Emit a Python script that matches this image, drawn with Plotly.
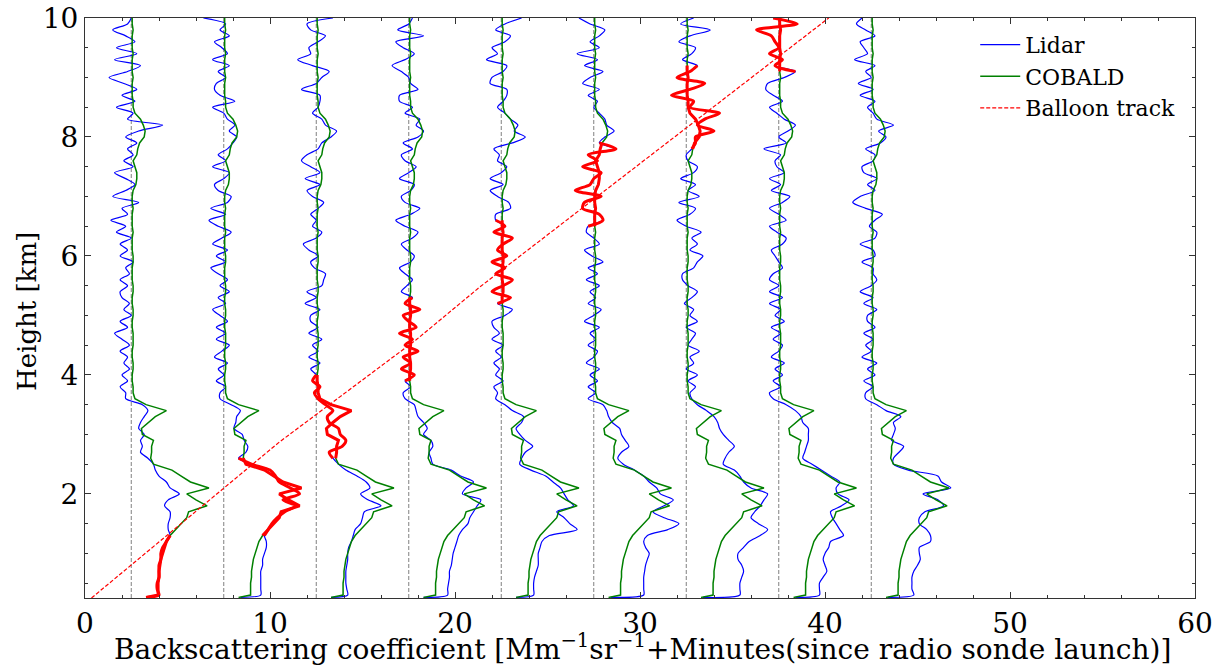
import plotly.graph_objects as go

# ---------------- data ----------------
OFFSETS = [2.5, 7.5, 12.5, 17.5, 22.5, 27.5, 32.5, 37.5, 42.5]   # minutes since launch (profile baselines)

# height samples [km]
HEIGHT_LOW = [0.26] + [h / 10 for h in range(3, 37)]      # 0.26, 0.3 ... 3.6
HEIGHT_HIGH = [h / 10 for h in range(37, 101)]            # 3.7 ... 10.0

# COBALD backscatter (same sonde profile drawn at each baseline)
COBALD_LOW = [0.8,
              1.45, 1.45, 1.45, 1.5, 1.5, 1.55, 1.6, 1.7, 1.8, 1.9,
              2.1, 2.4, 2.7, 3.0, 3.1, 4.1, 3.5, 3.0, 4.2, 3.2,
              2.7, 2.2, 1.2, 1.05, 1.1, 1.1, 1.2, 0.6, 0.55, 0.9,
              1.3, 1.9, 0.8, 0.2]
COBALD_HIGH = [0.1, 0.1, 0.05, 0.05, 0.1, 0.1, 0.05, 0.05, 0.1, 0.1,
               0.1, 0.05, 0.05, 0.1, 0.1, 0.05, 0.05, 0.1, 0.1, 0.05,
               0.05, 0.05, 0.1, 0.1, 0.05, 0.05, 0.05, 0.1, 0.05, 0.05,
               0.05, 0.1, 0.05, 0.05, 0.1, 0.25, 0.3, 0.3, 0.2, 0.1,
               0.3, 0.35, 0.45, 0.7, 0.75, 0.65, 0.5, 0.2, 0.1, 0.1,
               0.05, 0.05, 0.05, 0.1, 0.05, 0.05, 0.05, 0.1, 0.05, 0.05,
               0.05, 0.1, 0.05, 0.05]

# Lidar backscatter per profile (low part 0.26-3.6 km, high part 3.7-10 km)
LIDAR_LOW_1 = [0.8, 1.5, 1.4, 1.4, 1.5, 1.5, 1.5, 1.6, 1.6, 1.7, 1.9,
               2.1, 2.0, 2.0, 2.1, 2.1, 1.8, 2.0, 2.6, 2.1, 1.9,
               1.5, 1.3, 1.2, 0.9, 0.5, 0.6, 0.5, 0.7, 0.4, 0.5,
               0.7, 0.9, 0.6, -0.3]
LIDAR_HIGH_1 = [-0.3, -0.6, -0.2, -0.5, -0.1, -0.4, -0.2, -0.6, -0.1, -0.5,
                -0.9, -0.2, -0.6, 0.0, -0.4, -0.1, -0.5, -0.6, -0.2, -0.6,
                -0.1, -0.3, 0.1, -0.6, -0.2, -0.6, 0.0, -0.8, -0.3, -1.1,
                -0.2, -0.5, 0.4, -1.0, -0.3, 0.2, -0.3, -0.9, 0.1, -0.4,
                0.1, -0.2, 0.3, -0.3, 0.4, 1.7, -0.2, 0.1, -0.8, 0.2,
                -0.5, 0.3, -0.4, -1.2, -0.2, 0.5, -0.9, 0.3, -0.8, 0.2,
                -0.3, -1.0, -0.2, 0.0]
LIDAR_LOW_2 = [0.9, 2.0, 2.0, 2.0, 2.0, 2.0, 2.1, 2.1, 2.2, 2.3, 2.3,
               2.2, 2.4, 2.6, 2.9, 3.3, 3.9, 3.2, 4.1, 3.6, 3.0,
               2.8, 2.5, 1.5, 0.8, 1.2, 1.3, 1.1, 1.0, 0.55, 0.65,
               0.7, 0.9, 0.4, -0.2]
LIDAR_HIGH_2 = [-0.2, 0.1, -0.4, 0.0, -0.3, 0.2, -0.5, -0.1, 0.3, -0.4,
                0.1, -0.4, 0.2, -0.2, -0.6, 0.1, -0.3, 0.3, -0.2, 0.2,
                -0.3, -0.7, 0.1, -0.4, 0.2, -0.6, -0.1, 0.4, -0.3, -0.8,
                0.1, -0.7, 0.2, 0.4, -0.3, -0.5, 0.0, 0.3, -0.6, 0.1,
                -0.3, 0.2, 0.5, 0.7, 0.3, 0.6, 0.2, 0.0, -0.6, 0.6,
                -0.2, -0.5, -0.4, 0.1, -0.3, 0.3, -0.6, 0.2, -0.1, -0.5,
                0.3, -0.2, 0.1, -1.1]
LIDAR_LOW_3 = [0.8, 1.7, 1.65, 1.6, 1.6, 1.6, 1.65, 1.7, 1.7, 1.75, 1.9,
               2.0, 2.1, 2.4, 2.5, 2.6, 3.5, 2.8, 2.4, 2.9, 2.7,
               2.2, 1.6, 1.2, 0.9, 0.7, 1.4, 1.6, 1.3, 1.2, 0.7,
               0.6, 0.9, 0.5, 0.1]
LIDAR_HIGH_3 = [-0.1, 0.2, -0.2, 0.0, -0.3, 0.2, -0.4, 0.1, -0.2, 0.3,
                -0.4, 0.1, -0.3, -0.3, 0.2, -0.6, 0.0, -0.5, 0.3, 0.4,
                0.5, -0.1, -0.3, 0.1, -0.4, -0.7, 0.0, 0.3, -0.2, 0.0,
                -0.3, 0.1, 0.4, -0.2, -0.5, 0.2, -0.6, 0.2, -0.3, -0.8,
                -0.5, 0.1, 0.3, 0.8, 1.1, 0.5, 0.3, -0.2, 0.1, 0.2,
                0.2, -0.8, 0.0, 0.3, 0.7, -0.2, -1.0, -0.3, -0.4, 0.1,
                0.5, -0.3, -0.5, 0.9]
LIDAR_LOW_4 = [0.8, 2.1, 2.1, 2.15, 2.2, 2.2, 2.3, 2.35, 2.4, 2.5, 2.6,
               2.7, 2.9, 3.2, 3.3, 3.5, 3.7, 3.9, 2.9, 3.1, 3.5,
               2.8, 2.3, 1.3, 1.2, 1.1, 1.3, 1.2, 0.8, 1.0, 0.8,
               0.5, 0.4, 0.3, -0.2]
LIDAR_HIGH_4 = [-0.3, 0.1, -0.2, 0.3, -0.4, 0.1, -0.3, 0.5, -0.2, 0.2,
                -0.5, 0.4, 0.0, -0.3, 0.6, -0.2, 0.2, -0.4, -0.1, 0.2,
                -0.2, -0.5, 0.1, 0.3, -0.1, -0.4, 0.2, 0.5, -0.2, -0.7,
                0.1, 0.6, -0.2, -0.4, 0.1, 0.3, -0.5, 0.0, 0.4, -0.2,
                -0.4, 0.2, -0.3, 0.5, 0.8, 0.4, 0.6, -0.2, 0.2, -0.5,
                -0.5, 0.5, 0.1, 0.0, -0.4, -0.9, -0.2, 0.3, -0.3, -0.7,
                0.8, -0.6, 0.0, 0.2]
LIDAR_LOW_5 = [0.8, 1.75, 1.75, 1.75, 1.8, 1.9, 2.0, 2.0, 2.0, 2.1, 2.2,
               2.6, 4.1, 3.7, 3.4, 3.0, 3.9, 3.6, 3.4, 3.2, 2.8,
               2.4, 1.6, 1.0, 1.1, 1.3, 1.7, 1.3, 1.0, 0.8, 1.1,
               1.2, 0.6, 0.2, -0.3]
LIDAR_HIGH_5 = [-0.2, -0.4, 0.1, -0.3, -0.1, -0.4, 0.0, -0.3, 0.1, -0.5,
                -0.1, -0.4, -0.5, 0.2, 0.6, -0.2, 0.5, -0.5, 0.1, 0.6,
                -0.3, 0.2, -0.5, 0.3, -0.2, 0.1, 0.6, -0.4, 0.2, -0.3,
                -0.3, 0.5, 0.4, -0.2, -0.6, 0.1, -0.6, 0.0, 0.3, -0.2,
                -0.1, -0.4, 0.6, 1.3, 0.7, 0.9, 0.5, 0.2, -0.2, 0.1,
                0.3, 0.3, -0.6, -0.5, 0.1, 0.3, -0.8, -0.2, -0.5, 0.2,
                0.5, -0.3, 0.2, 1.1]
LIDAR_LOW_6 = [0.9, 2.7, 2.7, 2.7, 2.7, 2.75, 2.8, 2.9, 3.0, 2.8, 2.7,
               2.9, 4.0, 4.6, 3.8, 3.2, 3.8, 4.3, 3.6, 3.4, 3.0,
               2.7, 2.2, 1.6, 1.3, 1.5, 1.9, 1.7, 1.5, 1.4, 1.0,
               0.8, 0.7, 0.5, -0.3]
LIDAR_HIGH_6 = [0.1, -0.3, 0.2, -0.2, 0.3, -0.4, 0.0, 0.2, -0.3, 0.1,
                -0.2, 0.3, -0.5, 0.0, 0.4, -0.3, 0.1, -0.2, 0.3, -0.4,
                0.2, -0.3, 0.5, -0.1, -0.5, 0.3, 0.0, -0.4, -0.3, 0.5,
                0.3, -0.6, -0.5, 0.4, -1.0, -0.2, 0.0, 0.4, -0.6, 0.2,
                -0.3, 1.2, 0.3, 0.6, 1.1, 0.7, 0.6, 0.3, 0.0, 0.2,
                -0.3, 0.3, -0.6, -0.2, 0.5, -0.5, 0.2, -0.9, 0.3, -0.2,
                0.3, 0.6, -0.2, -0.8]
LIDAR_LOW_7 = [0.9, 2.9, 2.9, 2.9, 3.0, 3.1, 3.0, 2.8, 2.8, 3.1, 3.4,
               4.0, 4.4, 3.9, 3.5, 3.7, 4.0, 4.2, 4.4, 3.5, 3.1,
               2.9, 2.6, 2.0, 2.1, 2.3, 2.6, 2.3, 2.0, 1.8, 1.7,
               1.5, 1.1, 0.6, 0.3]
LIDAR_HIGH_7 = [0.2, 0.5, 0.1, 0.6, 0.0, 0.4, 0.2, 0.7, 0.1, 0.3,
                0.5, 0.0, 0.6, 0.2, 0.4, -0.1, 0.3, 0.6, 0.1, -0.2,
                -0.2, 0.4, 0.6, 0.9, 0.2, 0.6, 0.3, 0.8, 0.0, -0.5,
                0.2, 0.5, -0.4, 0.7, 0.1, 0.5, -0.3, 0.4, 0.6, 0.1,
                0.0, 0.3, 0.5, 0.5, 1.5, 0.6, 1.0, 1.8, 0.2, 0.4,
                -0.8, 0.2, 1.0, -0.5, 0.2, 0.6, -0.2, 0.3, 0.5, -0.4,
                0.2, 1.3, -0.3, 0.4]
LIDAR_LOW_8 = [0.9, 2.2, 2.2, 2.2, 2.4, 2.6, 2.5, 2.4, 2.5, 2.7, 2.8,
               3.5, 3.3, 3.1, 2.9, 2.8, 3.4, 3.8, 3.2, 3.1, 3.3,
               2.8, 2.3, 1.8, 1.3, 1.4, 1.5, 1.6, 1.6, 1.6, 1.3,
               1.2, 0.9, 0.4, -0.3]
LIDAR_HIGH_8 = [-0.5, 0.1, -0.3, 0.2, -0.2, 0.3, -0.4, 0.0, 0.2, -0.3,
                0.1, -0.4, 0.3, -0.2, 0.1, -0.5, 0.2, -0.5, 0.0, -0.5,
                -0.3, 0.2, 0.0, -0.2, -0.4, 0.2, 0.4, -0.1, -0.5, 0.4,
                0.0, -0.5, 0.2, 0.6, -0.4, 0.1, -0.5, 0.3, -0.1, -0.2,
                0.1, -0.8, 0.4, 0.0, 0.5, 0.9, 0.3, -0.1, -0.5, 0.2,
                -0.3, -0.7, -0.6, 0.3, 0.9, -0.2, 0.2, -0.5, 0.0, -0.2,
                -0.4, -1.2, 1.0, -0.3]
LIDAR_LOW_9 = [0.9, 2.3, 2.2, 2.2, 2.2, 2.3, 2.5, 2.65, 2.6, 2.6, 3.2,
               3.2, 3.0, 2.6, 2.6, 2.9, 3.9, 3.6, 2.8, 4.3, 3.8,
               3.6, 2.0, 1.2, 1.2, 1.5, 1.75, 1.1, 1.2, 1.3, 1.2,
               1.6, 0.8, 0.3, -0.3]
LIDAR_HIGH_9 = [-0.3, 0.1, -0.4, 0.2, -0.2, 0.3, -0.5, 0.0, -0.3, 0.1,
                -0.4, 0.2, -0.2, -0.2, 0.3, -0.4, 0.1, -0.6, 0.0, 0.3,
                0.1, 0.1, -0.5, 0.2, 0.1, -0.6, 0.2, 0.3, -0.1, 0.2,
                0.6, -0.3, -1.0, -0.6, 0.2, -0.2, 0.3, -0.4, -0.5, 0.1,
                0.2, -0.3, 0.5, 0.8, 0.4, 1.2, 0.3, 0.1, -0.2, 0.2,
                -0.6, 0.1, -0.7, 0.0, -0.3, 0.2, -0.9, -0.2, -0.4, -0.6,
                0.2, -0.3, -0.8, -0.5]

LIDAR_LOW = [LIDAR_LOW_1, LIDAR_LOW_2, LIDAR_LOW_3, LIDAR_LOW_4, LIDAR_LOW_5,
             LIDAR_LOW_6, LIDAR_LOW_7, LIDAR_LOW_8, LIDAR_LOW_9]
LIDAR_HIGH = [LIDAR_HIGH_1, LIDAR_HIGH_2, LIDAR_HIGH_3, LIDAR_HIGH_4, LIDAR_HIGH_5,
              LIDAR_HIGH_6, LIDAR_HIGH_7, LIDAR_HIGH_8, LIDAR_HIGH_9]

# height window where the balloon was during each lidar profile (highlighted red)
RED_START = [0.26, 1.3, 2.6, 3.9, 5.2, 6.5, 7.8, 9.1, None]
RED_END = [1.35, 2.6, 4.0, 5.35, 6.6, 7.9, 9.25, 10.0, None]

# balloon track (minutes since launch, height km)
TRACK_TIME = [0.35, 10.5, 17.9, 21.35, 32.2, 40.2]
TRACK_HEIGHT = [0.25, 2.87, 4.59, 5.48, 8.08, 10.0]

# ---------------- figure ----------------
HEIGHTS = HEIGHT_LOW + HEIGHT_HIGH
COBALD = COBALD_LOW + COBALD_HIGH
assert len(HEIGHTS) == len(COBALD) == 99

FONT = "DejaVu Serif"
AX = "#333333"
fig = go.Figure()

# dashed baselines
for off in OFFSETS:
    fig.add_trace(go.Scatter(x=[off, off], y=[0.25, 10], mode="lines",
                             line=dict(color="#808080", width=1, dash="4px,2px"),
                             showlegend=False, hoverinfo="skip"))

for i, off in enumerate(OFFSETS):
    lid = LIDAR_LOW[i] + LIDAR_HIGH[i]
    assert len(lid) == 99, (i, len(lid))
    fig.add_trace(go.Scatter(x=[off + v for v in lid], y=HEIGHTS, mode="lines",
                             line=dict(color="#0000ff", width=1.2, shape="spline", smoothing=0.8),
                             name="Lidar", showlegend=(i == 0)))
    fig.add_trace(go.Scatter(x=[off + v for v in COBALD], y=HEIGHTS, mode="lines",
                             line=dict(color="#008000", width=1.5),
                             name="COBALD", showlegend=(i == 0)))

for i, off in enumerate(OFFSETS):
    if RED_START[i] is None:
        continue
    lid = LIDAR_LOW[i] + LIDAR_HIGH[i]
    idx = [k for k, h in enumerate(HEIGHTS) if RED_START[i] - 1e-9 <= h <= RED_END[i] + 1e-9]
    fig.add_trace(go.Scatter(x=[off + COBALD[k] for k in idx], y=[HEIGHTS[k] for k in idx],
                             mode="lines", line=dict(color="#ff0000", width=3),
                             showlegend=False))
    fig.add_trace(go.Scatter(x=[off + lid[k] for k in idx], y=[HEIGHTS[k] for k in idx],
                             mode="lines", line=dict(color="#ff0000", width=3, shape="spline", smoothing=0.8),
                             showlegend=False))

fig.add_trace(go.Scatter(x=TRACK_TIME, y=TRACK_HEIGHT, mode="lines",
                         line=dict(color="#ff0000", width=1.2, dash="4px,2px"),
                         name="Balloon track"))

axis_common = dict(showgrid=False, zeroline=False, showline=True, linecolor=AX,
                   linewidth=1, mirror="ticks", ticks="inside", ticklen=6, tickcolor=AX,
                   automargin=False, ticklabeloverflow="allow",
                   tickfont=dict(family=FONT, size=28, color="black"))
fig.update_xaxes(range=[0, 60], dtick=10, tick0=0,
                 minor=dict(ticks="inside", dtick=2, ticklen=3, tickcolor=AX),
                 **axis_common)
fig.update_yaxes(range=[0.25, 10], dtick=2, tick0=0,
                 minor=dict(ticks="inside", dtick=0.5, ticklen=3, tickcolor=AX),
                 **axis_common)

# full-window figure; the page's default body margin is removed by post_script
W, H = 1222, 667
L, R, T, B = 85, 27, 18, 69
PW, PH = W - L - R, H - T - B


def px_to_paper(px, py):
    """page pixel -> paper coords"""
    return (px - L) / PW, (T + PH - py) / PH


xt = px_to_paper(642, 647)
yt = px_to_paper(27, 312)
fig.add_annotation(text="Backscattering coefficient [Mm<sup>\u22121</sup>sr<sup>\u22121</sup>+Minutes(since radio sonde launch)]",
                   xref="paper", yref="paper", x=xt[0], y=xt[1],
                   xanchor="center", yanchor="middle", showarrow=False,
                   font=dict(family=FONT, size=28, color="black"))
fig.add_annotation(text="Height [km]", textangle=-90,
                   xref="paper", yref="paper", x=yt[0], y=yt[1],
                   xanchor="center", yanchor="middle", showarrow=False,
                   font=dict(family=FONT, size=26, color="black"))

fig.update_layout(width=W, height=H, plot_bgcolor="white", paper_bgcolor="white",
                  margin=dict(l=L, r=R, t=T, b=B),
                  font=dict(family=FONT, color="black"),
                  legend=dict(x=0.802, y=0.99, xanchor="left", yanchor="top",
                              font=dict(family=FONT, size=22, color="black"),
                              bgcolor="rgba(255,255,255,0.8)", borderwidth=0,
                              tracegroupgap=0, itemwidth=40))

fig.write_html("out.html", config={"displayModeBar": False},
               post_script="document.body.style.margin='0';document.body.style.overflow='hidden';")
